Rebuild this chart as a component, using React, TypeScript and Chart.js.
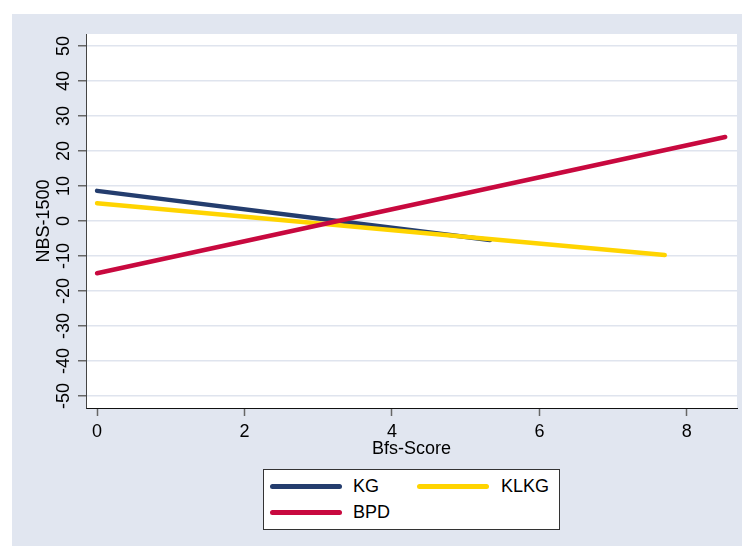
import React, { useEffect, useRef } from "react";
import { Chart, registerables } from "chart.js";

Chart.register(...registerables);

const seriesNames = ["KG", "KLKG", "BPD"];
const seriesColors = ["#243d6e", "#ffd400", "#c8093f"];
const kgX = [0, 5.33];
const kgY = [8.6, -5.4];
const klkgX = [0, 7.7];
const klkgY = [5.1, -9.7];
const bpdX = [0, 8.52];
const bpdY = [-14.9, 24.0];
const xTicks = [0, 2, 4, 6, 8];
const yTicks = [-50, -40, -30, -20, -10, 0, 10, 20, 30, 40, 50];
const xTitle = "Bfs-Score";
const yTitle = "NBS-1500";

const BG = "#e1e6f0";
const FONT = "'Liberation Sans', Arial, sans-serif";

const toPoints = (xs: number[], ys: number[]) => xs.map((x, i) => ({ x, y: ys[i] }));

const plotBg = {
  id: "plotBg",
  beforeDraw(chart: any) {
    const { ctx, chartArea } = chart;
    ctx.save();
    ctx.fillStyle = "#ffffff";
    ctx.fillRect(chartArea.left, chartArea.top, chartArea.right - chartArea.left, chartArea.bottom - chartArea.top);
    ctx.restore();
  },
};

export default function App() {
  const ref = useRef<HTMLCanvasElement | null>(null);

  useEffect(() => {
    if (!ref.current) return;
    const mk = (i: number, xs: number[], ys: number[], order: number) => ({
      label: seriesNames[i],
      data: toPoints(xs, ys),
      borderColor: seriesColors[i],
      backgroundColor: seriesColors[i],
      borderWidth: 4.5,
      borderCapStyle: "round",
      pointRadius: 0,
      fill: false,
      order,
    });
    const chart = new Chart(ref.current, {
      type: "line",
      data: {
        datasets: [mk(0, kgX, kgY, 2), mk(1, klkgX, klkgY, 1), mk(2, bpdX, bpdY, 0)] as any,
      },
      options: {
        animation: false,
        responsive: false,
        devicePixelRatio: 1,
        layout: { padding: { top: 20, right: 5, bottom: 86, left: 0 } },
        plugins: { legend: { display: false }, tooltip: { enabled: false } },
        font: { family: FONT },
        scales: {
          x: {
            type: "linear",
            min: -0.15,
            max: 8.68,
            afterBuildTicks: (s: any) => {
              s.ticks = xTicks.map((v) => ({ value: v }));
            },
            afterFit: (s: any) => {
              s.height = 52;
            },
            grid: { drawOnChartArea: false, drawTicks: true, tickLength: 8, tickColor: "#666", tickWidth: 1.5 },
            border: { display: true, color: "#111", width: 1 },
            ticks: { color: "#000", padding: 5, font: { family: FONT, size: 18 }, maxRotation: 0, callback: (v: any) => String(v) },
            title: { display: true, text: xTitle, color: "#000", font: { family: FONT, size: 18 }, padding: { top: 0, bottom: 0 } },
          },
          y: {
            type: "linear",
            min: -53.4,
            max: 53.4,
            afterBuildTicks: (s: any) => {
              s.ticks = yTicks.map((v) => ({ value: v }));
            },
            afterFit: (s: any) => {
              s.width = 74;
            },
            grid: { color: "#dfe4ee", lineWidth: 1.5, drawTicks: true, tickLength: 8, tickColor: "#666", tickWidth: 1.5 },
            border: { display: true, color: "#444", width: 1 },
            ticks: {
              color: "#000",
              padding: 1,
              minRotation: 90,
              maxRotation: 90,
              crossAlign: "center",
              font: { family: FONT, size: 18 },
              callback: (v: any) => String(v),
            },
            title: { display: true, text: yTitle, color: "#000", font: { family: FONT, size: 18 }, padding: { top: 21, bottom: 0 } },
          },
        },
      } as any,
      plugins: [plotBg],
    });
    return () => chart.destroy();
  }, []);

  const legendRows = [
    { i: 0, lineLeft: 7, textLeft: 90, y: 17 },
    { i: 1, lineLeft: 154, textLeft: 238, y: 17 },
    { i: 2, lineLeft: 7, textLeft: 90, y: 43 },
  ];

  return (
    <div
      style={{
        position: "absolute",
        left: 12,
        top: 14,
        width: 730,
        height: 532,
        background: BG,
        overflow: "hidden",
      }}
    >
      <canvas ref={ref} width={730} height={532} style={{ display: "block", width: 730, height: 532 }} />
      <div
        style={{
          position: "absolute",
          left: 251,
          top: 455,
          width: 297,
          height: 61,
          boxSizing: "border-box",
          border: "1px solid #333",
          background: "#fff",
          fontFamily: FONT,
          fontSize: 18,
          color: "#000",
        }}
      >
        {legendRows.map((r) => (
          <React.Fragment key={r.i}>
            <div
              style={{
                position: "absolute",
                left: r.lineLeft - 1,
                top: r.y - 1 - 2.5,
                width: 72,
                height: 5,
                borderRadius: 3,
                background: seriesColors[r.i],
              }}
            />
            <div
              style={{
                position: "absolute",
                left: r.textLeft - 1,
                top: r.y - 1 - 11,
                height: 22,
                lineHeight: "22px",
                whiteSpace: "nowrap",
              }}
            >
              {seriesNames[r.i]}
            </div>
          </React.Fragment>
        ))}
      </div>
    </div>
  );
}
